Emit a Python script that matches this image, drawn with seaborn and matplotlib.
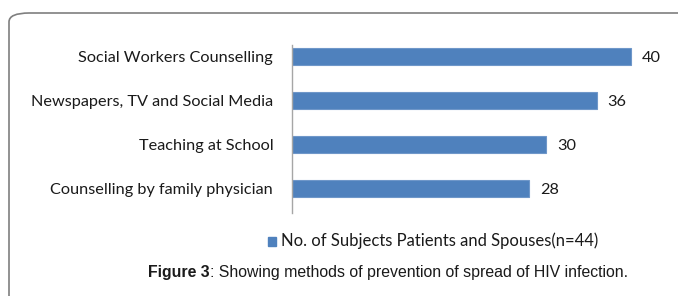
import pandas as pd
import seaborn as sns
import matplotlib.pyplot as plt
from matplotlib.patches import FancyBboxPatch, Rectangle

methods = ['Social Workers Counselling', 'Newspapers, TV and Social Media',
           'Teaching at School', 'Counselling by family physician']
subjects = [40, 36, 30, 28]
legend_label = 'No. of Subjects Patients and Spouses(n=44)'

df = pd.DataFrame({'method': methods, 'subjects': subjects})
bar_color = '#4F81BD'

sns.set_style('white')
plt.rcParams['font.family'] = ['Lato', 'DejaVu Sans']

fig = plt.figure(figsize=(6.78, 2.96), dpi=100)
ax = fig.add_axes([292/678, 1 - 213/296, (660 - 292)/678, (213 - 45)/296])

sns.barplot(x='subjects', y='method', data=df, color=bar_color, width=0.39,
            edgecolor='#6f97c9', linewidth=0.8, ax=ax, saturation=1)
ax.set_xlim(0, 43.4)
ax.set_ylim(3.55, -0.27)
ax.set_xlabel('')
ax.set_ylabel('')
ax.set_xticks([])
for s in ['top', 'right', 'bottom']:
    ax.spines[s].set_visible(False)
ax.spines['left'].set_color('#a6a6a6')
ax.spines['left'].set_linewidth(1)
ax.tick_params(axis='y', length=0, pad=13.5, labelsize=11.7, labelcolor='#1a1a1a')

for c in ax.containers:
    labels = ax.bar_label(c, padding=7.5, fontsize=11.7, color='#1a1a1a')
    for t in labels:
        t.set_va('center_baseline')

# legend
fig.patches.append(Rectangle((268/678, 1 - 246/296), 8/678, 9/296,
                             transform=fig.transFigure, color=bar_color))
fig.text(281/678, 1 - 241/296, legend_label, fontsize=12, va='center',
         color='#1a1a1a')

# caption
cap = fig.text(148/678, 1 - 272/296, 'Figure 3', fontsize=11.4, weight='bold',
               va='center', family='Liberation Sans', color='#1a1a1a')
fig.canvas.draw()
bb = cap.get_window_extent()
fig.text(bb.x1 / fig.bbox.width, 1 - 272/296,
         ': Showing methods of prevention of spread of HIV infection.',
         fontsize=11.4, va='center', family='Liberation Sans', color='#1a1a1a')

# outer frame
fig.patches.append(FancyBboxPatch((9/678, -0.2), 1.2, 1 - 13/296 + 0.2,
                                  boxstyle='round,pad=0,rounding_size=0.03',
                                  transform=fig.transFigure, fill=False,
                                  edgecolor='#7f7f7f', linewidth=1.2,
                                  clip_on=False))

fig.savefig('out.png', dpi=100)
